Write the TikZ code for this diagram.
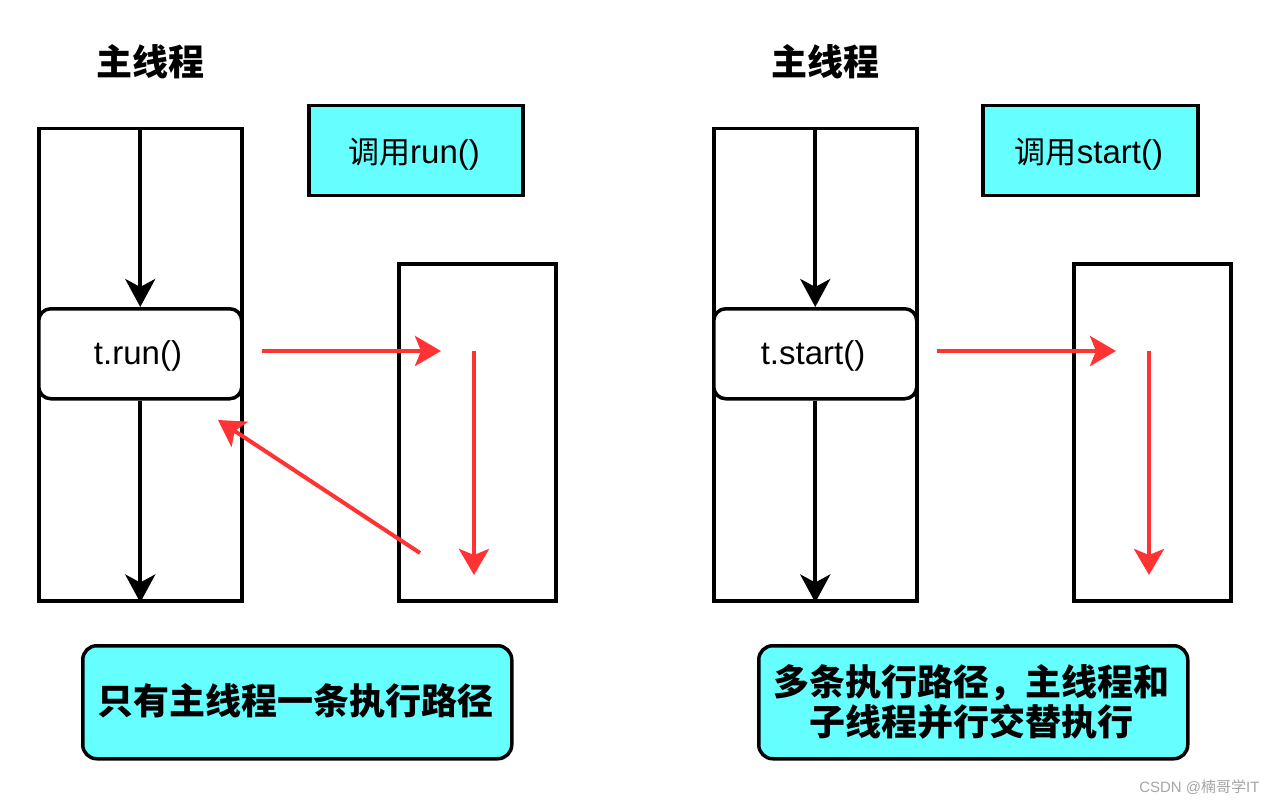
\documentclass[tikz,border=0pt]{standalone}
\usepackage{fontspec}
\setmainfont{Liberation Sans}
\newfontfamily\cjk{Noto Sans CJK SC}
\usetikzlibrary{arrows.meta}
\definecolor{cyanfill}{HTML}{66FFFF}
\definecolor{redarrow}{HTML}{FF3333}
\tikzset{
  thread/.style={draw=black, line width=3.5pt, fill=white},
  callbox/.style={draw=black, line width=3.5pt, fill=cyanfill, inner sep=0pt},
  runbox/.style={draw=black, line width=3.5pt, fill=white, rounded corners=12pt, inner sep=0pt},
  notebox/.style={draw=black, line width=3.5pt, fill=cyanfill, rounded corners=14pt, inner sep=0pt, align=center},
  blk/.style={line width=4pt, -{Stealth[length=28pt, width=30pt, inset=8pt]}},
  redar/.style={draw=redarrow, line width=4pt, -{Stealth[length=26pt, width=30pt, inset=6pt]}},
  title/.style={font=\fontsize{36}{40}\selectfont\cjk\bfseries},
  codetext/.style={font=\fontsize{33}{36}\selectfont},
  notetext/.style={font=\fontsize{36}{40}\selectfont\cjk\bfseries},
}
\begin{document}
\begin{tikzpicture}[x=1pt, y=-1pt]
\useasboundingbox (0,0) rectangle (1277,805);
\fill[white] (0,0) rectangle (1277,805);

% ===== Left panel =====
\node[title] (t1) at (150,62) {主线程};
\node[thread, minimum width=203pt, minimum height=472pt, anchor=north west] (m1) at (37,127) {};
\node[callbox, minimum width=214pt, minimum height=90pt, anchor=north west] (c1) at (307,104) {};
\node[codetext] (c1t) at (414,154) {{\cjk\fontsize{31}{36}\selectfont 调用}run()};
\node[thread, minimum width=157pt, minimum height=337pt, anchor=north west] (s1) at (397,262) {};
\node[runbox, minimum width=203pt, minimum height=90pt, anchor=north west] (r1) at (37,307) {};
\node[codetext] (r1t) at (138,356) {t.run()};
\draw[blk] (m1.north) -- (r1.north);
\draw[blk] (r1.south) -- (m1.south);
\coordinate (a1s) at (262,351);
\coordinate (a1e) at (441,351);
\draw[redar] (a1s) -- (a1e);
\coordinate (d1s) at (474,351);
\coordinate (d1e) at (474,575);
\draw[redar] (d1s) -- (d1e);
\coordinate (b1s) at (420,553);
\coordinate (b1e) at (218,420);
\draw[redar] (b1s) -- (b1e);
\node[notebox, minimum width=429pt, minimum height=113pt, anchor=north west] (n1) at (81,644) {};
\node[notetext] (n1t) at (295,701) {只有主线程一条执行路径};

% ===== Right panel =====
\node[title] (t2) at (825,62) {主线程};
\node[thread, minimum width=203pt, minimum height=472pt, anchor=north west] (m2) at (712,127) {};
\node[callbox, minimum width=215pt, minimum height=90pt, anchor=north west] (c2) at (981,104) {};
\node[codetext] (c2t) at (1089,154) {{\cjk\fontsize{31}{36}\selectfont 调用}start()};
\node[thread, minimum width=157pt, minimum height=337pt, anchor=north west] (s2) at (1072,262) {};
\node[runbox, minimum width=203pt, minimum height=90pt, anchor=north west] (r2) at (712,307) {};
\node[codetext] (r2t) at (813,356) {t.start()};
\draw[blk] (m2.north) -- (r2.north);
\draw[blk] (r2.south) -- (m2.south);
\coordinate (a2s) at (937,351);
\coordinate (a2e) at (1116,351);
\draw[redar] (a2s) -- (a2e);
\coordinate (d2s) at (1149,351);
\coordinate (d2e) at (1149,575);
\draw[redar] (d2s) -- (d2e);
\node[notebox, minimum width=429pt, minimum height=113pt, anchor=north west] (n2) at (757,644) {};
\node[notetext, align=center] (n2t) at (971,702) {多条执行路径，主线程和\\子线程并行交替执行};

% watermark
\node[anchor=east, text=gray!70, font=\fontsize{15}{18}\selectfont] (wm) at (1263,787) {CSDN @{\cjk 楠哥学}IT};
\end{tikzpicture}
\end{document}
